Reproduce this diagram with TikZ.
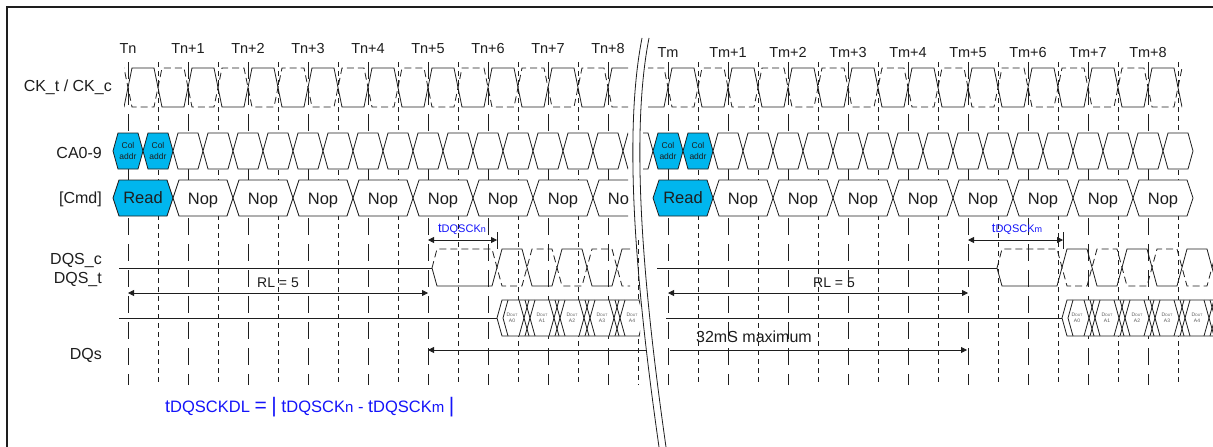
\documentclass[tikz,border=0pt]{standalone}
\usepackage{fontspec}
\setmainfont{Liberation Sans}
\usetikzlibrary{arrows.meta}
\definecolor{cy}{RGB}{0,182,238}
\definecolor{ln}{RGB}{30,30,30}
\definecolor{bl}{RGB}{20,20,250}
\begin{document}
\begin{tikzpicture}[x=1pt,y=-1pt,
  lw/.style={line width=0.8pt, draw=ln},
  tickS/.style={line width=0.8pt, draw=ln, dash pattern=on 17pt off 9pt},
  tickD/.style={line width=0.8pt, draw=ln, dash pattern=on 5pt off 4pt},
  ckc/.style={lw, dash pattern=on 7pt off 4pt},
  lbl/.style={font=\fontsize{16}{18}\selectfont, text=ln, anchor=base east, inner sep=0pt},
  tlbl/.style={font=\fontsize{14.5}{16}\selectfont, text=ln, anchor=base, inner sep=0pt},
  cmdtxt/.style={font=\fontsize{16.5}{18}\selectfont, text=ln, anchor=base, inner sep=0pt},
  coltxt/.style={font=\fontsize{8.5}{9.5}\selectfont, text=ln, anchor=base, inner sep=0pt},
  douttxt/.style={font=\fontsize{5}{6}\selectfont, text=gray!70!black, inner sep=0pt, align=center},
  arrtxt/.style={font=\fontsize{14}{16}\selectfont, text=ln, anchor=base, inner sep=0pt},
  bltxt/.style={text=bl, anchor=base, inner sep=0pt},
  dimarr/.style={lw, {Triangle[length=6pt,width=6pt]}-{Triangle[length=6pt,width=6pt]}},
  rarr/.style={lw, -{Triangle[length=6pt,width=6pt]}},
  larr/.style={lw, {Triangle[length=6pt,width=6pt]}-},
]
\useasboundingbox (0,0) rectangle (1213,447);
\fill[white] (0,0) rectangle (1213,447);
% frame
\draw[line width=2pt, ln] (7,447) -- (7,7) -- (1213,7);

% ---------- time labels ----------
\foreach \i in {0,...,8} {
  \node[tlbl] (tn\i) at ({128+60*\i},53) {\ifnum\i=0 Tn\else Tn+\i\fi};
  \node[tlbl] (tm\i) at ({668+60*\i},57) {\ifnum\i=0 Tm\else Tm+\i\fi};
}

% ---------- signal labels ----------
\node[lbl] (lck) at (112,91) {CK\_t / CK\_c};
\node[lbl] (lca) at (102,158) {CA0-9};
\node[lbl] (lcmd) at (102,203) {[Cmd]};
\node[lbl] (ldqsc) at (102,264) {DQS\_c};
\node[lbl] (ldqst) at (102,283) {DQS\_t};
\node[lbl] (ldq) at (102,359) {DQs};

% ---------- ticks ----------
\foreach \k in {0,...,8} {
  \draw[tickS] ({128+60*\k},62) -- ({128+60*\k},385);
  \draw[tickS] ({668+60*\k},62) -- ({668+60*\k},385);
  \draw[tickD] ({698+60*\k},62) -- ({698+60*\k},385);
}
\foreach \k in {0,...,7} {
  \draw[tickD] ({158+60*\k},62) -- ({158+60*\k},385);
}
\draw[tickD] (638,240) -- (638,385);

% ---------- clock ----------
\begin{scope}
  \clip (124,55) rectangle (628,115);
  \draw[lw] (60,107) \foreach \c in {68,128,...,668} { -- (\c-4,107) -- (\c+4,68) -- (\c+26,68) -- (\c+34,107) };
  \draw[ckc] (60,68) \foreach \c in {68,128,...,668} { -- (\c-4,68) -- (\c+4,107) -- (\c+26,107) -- (\c+34,68) };
\end{scope}
\begin{scope}
  \clip (648,55) rectangle (1182,115);
  \draw[lw] (600,107) \foreach \c in {608,668,...,1208} { -- (\c-4,107) -- (\c+4,68) -- (\c+26,68) -- (\c+34,107) };
  \draw[ckc] (600,68) \foreach \c in {608,668,...,1208} { -- (\c-4,68) -- (\c+4,107) -- (\c+26,107) -- (\c+34,68) };
\end{scope}

% ---------- CA row ----------
\begin{scope}
  \clip (100,125) rectangle (628,175);
  \foreach \b in {113,143,...,623} {
    \ifnum\b<173 \def\fc{cy}\else\def\fc{white}\fi
    \draw[lw, fill=\fc] (\b,151) -- (\b+5,133) -- (\b+25,133) -- (\b+30,151) -- (\b+25,169) -- (\b+5,169) -- cycle;
  }
\end{scope}
\begin{scope}
  \clip (643,125) rectangle (1213,175);
  \foreach \b in {623,653,...,1163} {
    \ifnum\b>652 \ifnum\b<713 \def\fc{cy}\else\def\fc{white}\fi \else\def\fc{white}\fi
    \draw[lw, fill=\fc] (\b,151) -- (\b+5,133) -- (\b+25,133) -- (\b+30,151) -- (\b+25,169) -- (\b+5,169) -- cycle;
  }
\end{scope}
\foreach \x/\n in {128/a,158/b,668/c,698/d} {
  \node[coltxt] (col\n) at (\x,148) {Col};
  \node[coltxt] (addr\n) at (\x,159) {addr};
}

% ---------- Cmd row ----------
\begin{scope}
  \clip (100,175) rectangle (628,222);
  \foreach \b in {113,173,...,593} {
    \ifnum\b=113 \def\fc{cy}\else\def\fc{white}\fi
    \draw[lw, fill=\fc] (\b,198) -- (\b+6,180) -- (\b+54,180) -- (\b+60,198) -- (\b+54,216) -- (\b+6,216) -- cycle;
  }
  \node[cmdtxt] (readn) at (143,203) {Read};
  \foreach \k in {0,...,7} { \node[cmdtxt] (nopn\k) at ({203+60*\k},204) {Nop}; }
\end{scope}
\begin{scope}
  \clip (643,175) rectangle (1213,222);
  \foreach \b in {653,713,...,1133} {
    \ifnum\b=653 \def\fc{cy}\else\def\fc{white}\fi
    \draw[lw, fill=\fc] (\b,198) -- (\b+6,180) -- (\b+54,180) -- (\b+60,198) -- (\b+54,216) -- (\b+6,216) -- cycle;
  }
  \node[cmdtxt] (readm) at (683,203) {Read};
  \foreach \k in {0,...,7} { \node[cmdtxt] (nopm\k) at ({743+60*\k},204) {Nop}; }
\end{scope}

% ---------- DQS ----------
\draw[lw] (119,268) -- (432,268);
\begin{scope}
  \clip (420,240) rectangle (630,295);
  \draw[lw] (432,268) -- (437,286) \foreach \c in {497,557,617} { -- (\c-5,286) -- (\c+5,249) -- (\c+25,249) -- (\c+35,286) } -- (700,286);
  \draw[ckc] (432,268) -- (437,249) \foreach \c in {497,557,617} { -- (\c-5,249) -- (\c+5,286) -- (\c+25,286) -- (\c+35,249) } -- (700,249);
\end{scope}
\draw[lw] (657,268) -- (997,268);
\begin{scope}
  \clip (990,240) rectangle (1213,295);
  \draw[lw] (997,268) -- (1002,286) \foreach \c in {1062,1122,1182} { -- (\c-5,286) -- (\c+5,249) -- (\c+25,249) -- (\c+35,286) } -- (1260,286);
  \draw[ckc] (997,268) -- (1002,249) \foreach \c in {1062,1122,1182} { -- (\c-5,249) -- (\c+5,286) -- (\c+25,286) -- (\c+35,249) } -- (1260,249);
\end{scope}

% ---------- DQ ----------
\draw[lw] (119,318) -- (497,318);
\draw[lw] (666,318) -- (1062,318);
\foreach \bz/\cx in {497/640,1062/1213} {
  \begin{scope}
    \clip (\bz-5,290) rectangle (\cx,345);
    \fill[white] (\bz,318) -- (\bz+5,300) -- (\bz+200,300) -- (\bz+200,336) -- (\bz+5,336) -- cycle;
    \draw[lw] (\bz+200,300) -- (\bz+5,300) -- (\bz,318) -- (\bz+5,336) -- (\bz+200,336);
    \draw[lw] (\bz+11,300) -- (\bz+6,318) -- (\bz+11,336);
    \foreach \j in {1,...,5} {
      \pgfmathsetmacro{\b}{\bz+30*\j}
      \draw[lw] (\b-8,300) -- (\b+2,336);  \draw[lw] (\b-8,336) -- (\b+2,300);
      \draw[lw] (\b-2,300) -- (\b+8,336);  \draw[lw] (\b-2,336) -- (\b+8,300);
    }
    \foreach \j in {0,...,4} {
      \node[douttxt] (dout\bz\j) at ({\bz+15+30*\j},318) {D{\fontsize{3.5}{4}\selectfont OUT}\\A\j};
    }
  \end{scope}
}

% ---------- break ----------
\draw[lw] (642,38) .. controls (622,140) and (638,300) .. (659,447);
\draw[lw] (649,38) .. controls (629,140) and (645,300) .. (666,447);

% ---------- dimension arrows ----------
\coordinate (dn1) at (428,240); \coordinate (dn2) at (497,240);
\draw[dimarr] (dn1) -- (dn2);
\draw[lw] (497,232) -- (497,249);
\node[bltxt] (tdn) at (462,232) {{\fontsize{13}{14}\selectfont t}{\fontsize{11}{12}\selectfont DQSCK}{\fontsize{9}{10}\selectfont n}};
\coordinate (dm1) at (968,240); \coordinate (dm2) at (1063,240);
\draw[dimarr] (dm1) -- (dm2);
\draw[lw] (1063,232) -- (1063,249);
\node[bltxt] (tdm) at (1017,232) {{\fontsize{13}{14}\selectfont t}{\fontsize{11}{12}\selectfont DQSCK}{\fontsize{9}{10}\selectfont m}};

\coordinate (rl1) at (128,293); \coordinate (rl2) at (428,293);
\draw[dimarr] (rl1) -- (rl2);
\node[arrtxt] (rln) at (278,287) {RL = 5};
\coordinate (rl3) at (668,293); \coordinate (rl4) at (968,293);
\draw[dimarr] (rl3) -- (rl4);
\node[arrtxt] (rlm) at (834,287) {RL = 5};

\coordinate (mx1) at (428,350); \coordinate (mx2) at (647,350);
\coordinate (mx3) at (670,350); \coordinate (mx4) at (967,350);
\draw[larr] (mx1) -- (mx2);
\draw[rarr] (mx3) -- (mx4);
\node[arrtxt, font=\fontsize{16}{18}\selectfont, anchor=base west] (mxt) at (696,342) {32mS maximum};

% ---------- formula ----------
\node[bltxt, anchor=base west] (formula) at (165,412) {{\fontsize{18}{18}\selectfont t}{\fontsize{16.5}{18}\selectfont DQSCKDL {\fontsize{21}{21}\selectfont =} {\fontsize{21}{21}\selectfont |} {\fontsize{18}{18}\selectfont t}DQSCK{\fontsize{15}{16}\selectfont n} - {\fontsize{18}{18}\selectfont t}DQSCK{\fontsize{15}{16}\selectfont m} {\fontsize{21}{21}\selectfont |}}};
\end{tikzpicture}
\end{document}
